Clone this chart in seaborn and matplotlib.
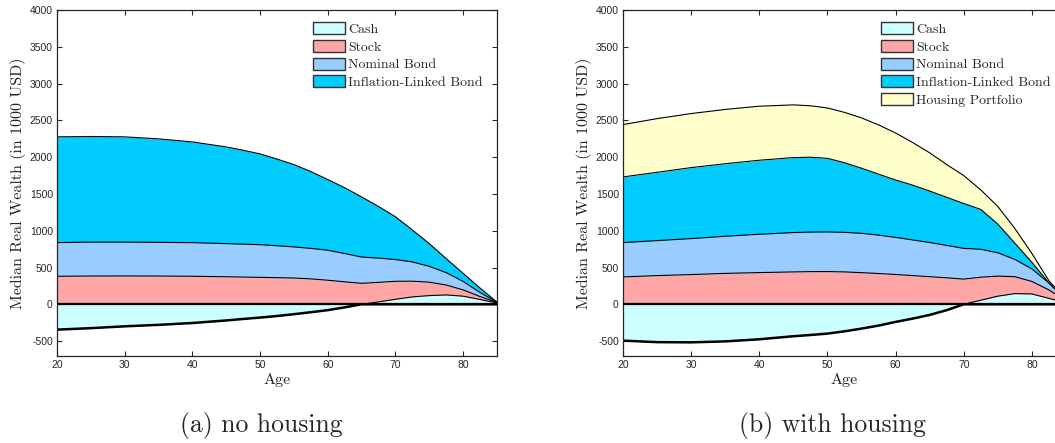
import numpy as np
import pandas as pd
import matplotlib
matplotlib.use('Agg')
import matplotlib.pyplot as plt
from matplotlib.patches import Patch
import seaborn as sns

# ---- data (median real wealth, 1000 USD) ----
ages_a = [20, 25, 30, 35, 40, 45, 47.5, 50, 52.5, 55, 57.5, 60, 62.5, 65,
          67.5, 70, 72.5, 75, 77.5, 80, 82.5, 85]
cash_a = [-345, -325, -300, -280, -255, -220, -200, -181, -160, -135, -108, -80, -42, 0,
          32, 68, 100, 118, 127, 110, 65, 18]
stock_a = [381, 384, 385, 384, 381, 374, 370, 366, 362, 357, 345, 327, 305, 285,
           298, 312, 314, 300, 262, 195, 105, 25]
nominal_a = [839, 845, 845, 842, 838, 825, 818, 810, 796, 780, 760, 735, 690, 642,
             628, 608, 576, 515, 430, 310, 160, 28]
ilb_a = [2277, 2282, 2277, 2250, 2208, 2140, 2095, 2045, 1975, 1900, 1805, 1696, 1585, 1460,
         1330, 1190, 1010, 825, 620, 420, 220, 30]

ages_b = [20, 25, 30, 35, 40, 45, 47.5, 50, 52.5, 55, 57.5, 60, 62.5, 65,
          67.5, 70, 72.5, 75, 77.5, 80, 82.5, 85]
cash_b = [-495, -515, -518, -505, -476, -435, -418, -399, -368, -331, -290, -240, -195, -145,
          -80, 0, 55, 110, 145, 140, 80, 20]
stock_b = [372, 390, 404, 420, 431, 440, 444, 445, 440, 430, 418, 405, 390, 375,
           360, 342, 368, 383, 375, 310, 195, 45]
nominal_b = [839, 866, 893, 925, 952, 975, 982, 984, 978, 965, 940, 910, 875, 840,
             800, 760, 748, 700, 610, 480, 290, 55]
ilb_b = [1732, 1795, 1859, 1912, 1959, 1995, 2000, 1985, 1925, 1850, 1770, 1690, 1620, 1540,
         1455, 1370, 1290, 1090, 830, 570, 290, 60]
housing_b = [2444, 2525, 2594, 2650, 2694, 2712, 2700, 2670, 2610, 2535, 2440, 2330, 2200, 2060,
             1900, 1750, 1555, 1330, 1030, 690, 320, 65]

labels = ['Cash', 'Stock', 'Nominal Bond', 'Inflation-Linked Bond', 'Housing Portfolio']
colors = ['#CCFFFF', '#FFA6A6', '#99CCFF', '#00CCFF', '#FFFFCC']

sns.set_style('ticks')
plt.rcParams['font.family'] = ['Liberation Sans', 'DejaVu Sans']
plt.rcParams['axes.unicode_minus'] = False

serif = 'cmr10'
axcol = '#262626'


def draw_panel(ax, ages, layers, n_leg):
    ages = np.asarray(ages, dtype=float)
    cash = np.asarray(layers[0], dtype=float)
    ax.fill_between(ages, 0, cash, color=colors[0], lw=0)
    lower = np.maximum(cash, 0)
    for i, top in enumerate(layers[1:], start=1):
        top = np.asarray(top, dtype=float)
        ax.fill_between(ages, lower, top, color=colors[i], lw=0)
        lower = top
    df = pd.DataFrame({'age': ages})
    # boundary lines
    for top in layers:
        df['v'] = top
        sns.lineplot(data=df, x='age', y='v', ax=ax, color='black', lw=0.8)
    ax.axhline(0, color='black', lw=1.6, zorder=3)
    df['v'] = np.minimum(cash, 0)
    sns.lineplot(data=df, x='age', y='v', ax=ax, color='black', lw=1.8)

    ax.set_xlim(20, 85)
    ax.set_ylim(-700, 4000)
    ax.set_xticks(range(20, 81, 10))
    ax.set_yticks(range(-500, 4001, 500))
    ax.tick_params(direction='in', top=True, right=True, length=3.5, width=0.8,
                   labelsize=7.5, colors=axcol, pad=3)
    for s in ax.spines.values():
        s.set_color(axcol)
        s.set_linewidth(0.9)
    ax.set_xlabel('Age', family=serif, fontsize=11.5, color='#222222', labelpad=2)
    ax.set_ylabel('Median Real Wealth (in 1000 USD)', family=serif, fontsize=11.5,
                  color='#222222', labelpad=3)
    handles = [Patch(facecolor=colors[i], edgecolor='#333333', lw=1.0, label=labels[i])
               for i in range(n_leg)]
    ax.legend(handles=handles, loc='upper left', bbox_to_anchor=(0.582, 0.965),
              frameon=False, borderpad=0, borderaxespad=0, handlelength=2.3,
              handleheight=0.95, handletextpad=0.25, labelspacing=0.28,
              prop={'family': serif, 'size': 10})


fig = plt.figure(figsize=(10.55, 4.43), dpi=100)
ax1 = fig.add_axes([57 / 1055, 0.197, 440 / 1055, 0.780])
ax2 = fig.add_axes([623 / 1055, 0.197, 443 / 1055, 0.780])

draw_panel(ax1, ages_a, [cash_a, stock_a, nominal_a, ilb_a], 4)
draw_panel(ax2, ages_b, [cash_b, stock_b, nominal_b, ilb_b, housing_b], 5)

fig.text(261 / 1055, 0.025, '(a) no housing', family=serif, fontsize=18.5,
         ha='center', va='baseline')
fig.text(832 / 1055, 0.025, '(b) with housing', family=serif, fontsize=18.5,
         ha='center', va='baseline')

fig.savefig('out.png', dpi=100)
